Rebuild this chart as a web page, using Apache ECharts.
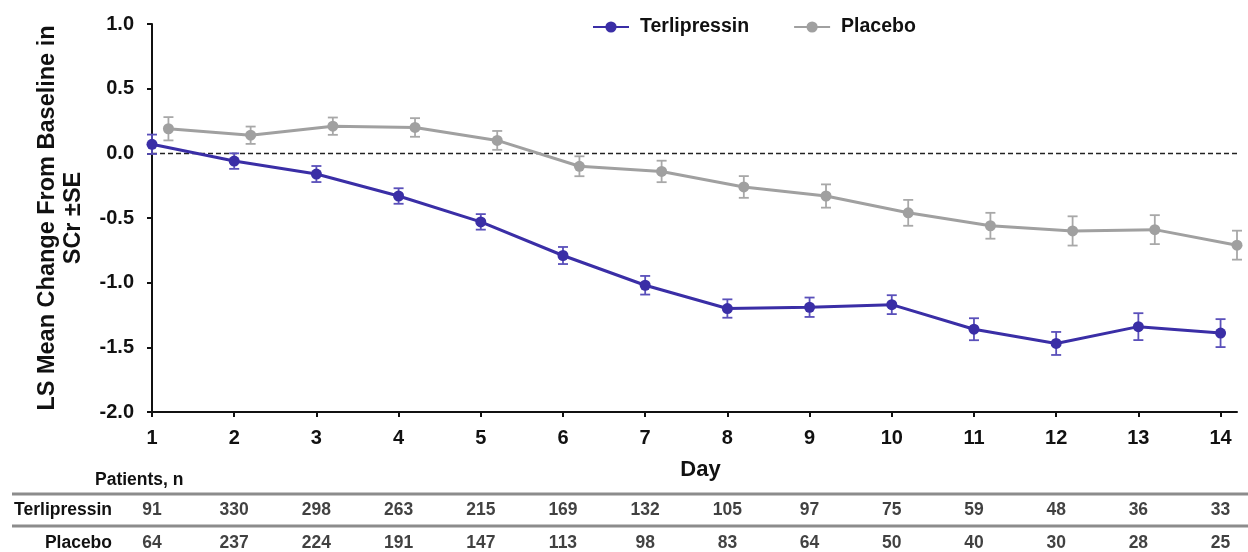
<!DOCTYPE html>
<html>
<head>
<meta charset="utf-8">
<script src="https://cdn.jsdelivr.net/npm/echarts@6/dist/echarts.min.js"></script>
<style>
html,body{margin:0;padding:0;background:#fff;}
#chart{width:1248px;height:552px;}
</style>
</head>
<body>
<div id="chart"></div>
<script>
// ---- data ----
const days = [1,2,3,4,5,6,7,8,9,10,11,12,13,14];
const yTicks = [-2.0,-1.5,-1.0,-0.5,0.0,0.5,1.0];
const terliMean = [0.07,-0.06,-0.16,-0.33,-0.53,-0.79,-1.02,-1.20,-1.19,-1.17,-1.36,-1.47,-1.34,-1.39];
const terliSE   = [0.075,0.06,0.062,0.06,0.06,0.066,0.072,0.071,0.075,0.073,0.085,0.089,0.104,0.108];
const placeboMean = [0.19,0.14,0.21,0.20,0.10,-0.10,-0.14,-0.26,-0.33,-0.46,-0.56,-0.60,-0.59,-0.71];
const placeboSE   = [0.09,0.067,0.067,0.072,0.073,0.077,0.083,0.084,0.09,0.10,0.10,0.113,0.112,0.112];
const terliN   = [91,330,298,263,215,169,132,105,97,75,59,48,36,33];
const placeboN = [64,237,224,191,147,113,98,83,64,50,40,30,28,25];
const rowLabels = ['Terlipressin','Placebo'];
const seriesNames = ['Terlipressin','Placebo'];

// ---- styling ----
const FONT = "'Liberation Sans', Arial, sans-serif";
const PURPLE = '#3a2ea6';
const PURPLE_ERR = '#5a50ba';
const GREY = '#a0a0a0';
const GREY_ERR = '#a8a8a8';
const PLACEBO_OFFSET = 0.2;

const chart = echarts.init(document.getElementById('chart'), null, {renderer:'canvas'});

function errRender(color){
  return function(params, api){
    const x = api.value(0);
    const lo = api.coord([x, api.value(1)]);
    const hi = api.coord([x, api.value(2)]);
    const w = 5;
    const style = {stroke: color, lineWidth: 1.8};
    return {type:'group', children:[
      {type:'line', shape:{x1:lo[0],y1:lo[1],x2:hi[0],y2:hi[1]}, style},
      {type:'line', shape:{x1:lo[0]-w,y1:lo[1],x2:lo[0]+w,y2:lo[1]}, style},
      {type:'line', shape:{x1:hi[0]-w,y1:hi[1],x2:hi[0]+w,y2:hi[1]}, style}
    ]};
  };
}

const tableData = [];
days.forEach((d,i)=>{ tableData.push([d,0,terliN[i]]); tableData.push([d,1,placeboN[i]]); });

const option = {
  animation:false,
  backgroundColor:'#fff',
  textStyle:{fontFamily:FONT},
  title:{text:'Patients, n', left:90, top:466,
    textStyle:{fontFamily:FONT, fontWeight:'bold', fontSize:17.5, color:'#111'}},
  legend:{
    data:seriesNames, left:587, top:12, itemWidth:36, itemHeight:14, itemGap:44,
    textStyle:{fontFamily:FONT, fontWeight:'bold', fontSize:19.5, color:'#111', padding:[0,0,0,6]}
  },
  grid:[
    {left:152, right:11, top:24, height:388},
    {left:152, right:11, top:493.5, height:57.75}
  ],
  xAxis:[
    {type:'value', gridIndex:0, min:1, max:14.2,
     name:'Day', nameLocation:'middle', nameGap:47,
     nameTextStyle:{fontFamily:FONT, fontWeight:'bold', fontSize:22, color:'#111', padding:[0,0,0,12]},
     axisLine:{onZero:false, lineStyle:{color:'#111', width:2}},
     axisTick:{show:true, customValues:days, length:5, lineStyle:{color:'#111', width:2}},
     axisLabel:{customValues:days, margin:16, fontFamily:FONT, fontWeight:'bold', fontSize:20, color:'#111'},
     splitLine:{show:false}},
    {type:'value', gridIndex:1, min:1, max:14.2, show:false}
  ],
  yAxis:[
    {type:'value', gridIndex:0, min:-2, max:1, interval:0.5,
     name:'LS Mean Change From Baseline in\nSCr ±SE', nameLocation:'middle', nameGap:65,
     nameTextStyle:{fontFamily:FONT, fontWeight:'bold', fontSize:23.5, lineHeight:26, color:'#111'},
     axisLine:{show:true, onZero:false, lineStyle:{color:'#111', width:2}},
     axisTick:{show:true, length:5, lineStyle:{color:'#111', width:2}},
     axisLabel:{margin:18, fontFamily:FONT, fontWeight:'bold', fontSize:20, color:'#111',
       formatter:v=>v.toFixed(1)},
     splitLine:{show:false}},
    {type:'value', gridIndex:1, min:-0.5, max:1.25, inverse:true,
     axisLine:{show:false}, axisTick:{show:false}, splitLine:{show:false},
     axisLabel:{customValues:[0,1], formatter:v=>rowLabels[v] || '',
       margin:40, fontFamily:FONT, fontWeight:'bold', fontSize:17.5, color:'#111', align:'right'}}
  ],
  graphic:[
    {type:'line', shape:{x1:12,y1:494,x2:1248,y2:494}, style:{stroke:'#8c8c8c', lineWidth:3}},
    {type:'line', shape:{x1:12,y1:526,x2:1248,y2:526}, style:{stroke:'#8c8c8c', lineWidth:3}}
  ],
  series:[
    {type:'custom', name:'terliErr', xAxisIndex:0, yAxisIndex:0, z:1,
     renderItem:errRender(PURPLE_ERR),
     data:days.map((d,i)=>[d, terliMean[i]-terliSE[i], terliMean[i]+terliSE[i]])},
    {type:'custom', name:'placeboErr', xAxisIndex:0, yAxisIndex:0, z:1,
     renderItem:errRender(GREY_ERR),
     data:days.map((d,i)=>[d+PLACEBO_OFFSET, placeboMean[i]-placeboSE[i], placeboMean[i]+placeboSE[i]])},
    {type:'line', name:seriesNames[1], xAxisIndex:0, yAxisIndex:0, z:2,
     symbol:'circle', symbolSize:11, color:GREY,
     lineStyle:{color:GREY, width:3}, itemStyle:{color:GREY},
     data:days.map((d,i)=>[d+PLACEBO_OFFSET, placeboMean[i]])},
    {type:'line', name:seriesNames[0], xAxisIndex:0, yAxisIndex:0, z:3,
     symbol:'circle', symbolSize:11, color:PURPLE,
     lineStyle:{color:PURPLE, width:3}, itemStyle:{color:PURPLE},
     data:days.map((d,i)=>[d, terliMean[i]]),
     markLine:{silent:true, symbol:'none', label:{show:false}, z:0,
       lineStyle:{color:'#222', type:[5,3], width:1.3},
       data:[{yAxis:0}]}},
    {type:'scatter', xAxisIndex:1, yAxisIndex:1, symbolSize:0,
     label:{show:true, position:'inside', formatter:p=>String(p.value[2]),
       fontFamily:FONT, fontWeight:'bold', fontSize:17.5, color:'#111'},
     data:tableData}
  ]
};
chart.setOption(option);
</script>
</body>
</html>
